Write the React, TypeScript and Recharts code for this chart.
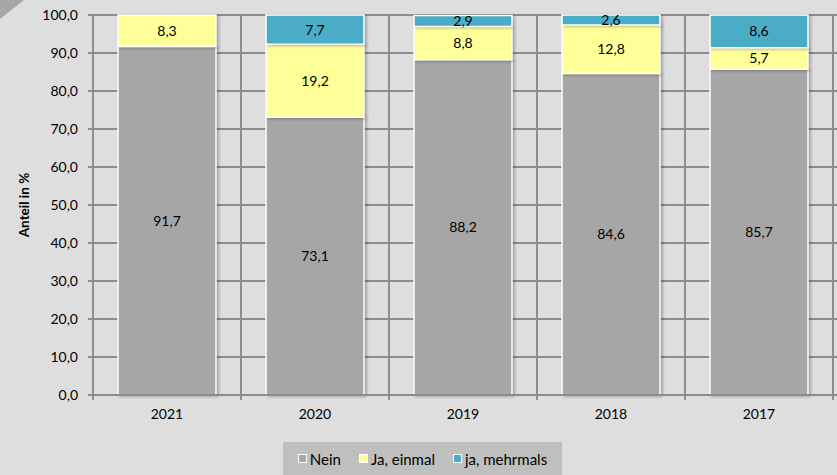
import React from 'react';
import { BarChart, Bar, XAxis, YAxis, CartesianGrid, LabelList } from 'recharts';

const categories = ['2021', '2020', '2019', '2018', '2017'];
const nein = [91.7, 73.1, 88.2, 84.6, 85.7];
const jaEinmal = [8.3, 19.2, 8.8, 12.8, 5.7];
const jaMehrmals = [0, 7.7, 2.9, 2.6, 8.6];
const yTicks = [0, 10, 20, 30, 40, 50, 60, 70, 80, 90, 100];

const seriesNames = ['Nein', 'Ja, einmal', 'ja, mehrmals'];
const seriesKeys = ['nein', 'jaEinmal', 'jaMehrmals'];
const seriesColors = ['#a6a6a6', '#ffff99', '#4bacc6'];

const data = categories.map((c, i) => ({
  year: c,
  nein: nein[i],
  jaEinmal: jaEinmal[i],
  jaMehrmals: jaMehrmals[i],
}));

const FONT = 'Lato, "Open Sans", sans-serif';
const GRID = '#8c8c8c';
const PAD_RIGHT = 4;

const fmt = (v: any) => {
  if (v === null || v === undefined || Number(v) === 0) return '';
  return Number(v).toFixed(1).replace('.', ',');
};

const XTick = (props: any) => {
  const { x, y, payload, index, visibleTicksCount } = props;
  const off = payload && payload.offset ? payload.offset : 0;
  return (
    <g>
      <line x1={x - off} x2={x - off} y1={y} y2={y + 5} stroke={GRID} strokeWidth={2} />
      {index === visibleTicksCount - 1 ? (
        <line x1={x + off} x2={x + off} y1={y} y2={y + 5} stroke={GRID} strokeWidth={2} />
      ) : null}
      <text x={x} y={y + 24} textAnchor="middle" fill="#000" fontSize={14} fontFamily={FONT}>
        {payload.value}
      </text>
    </g>
  );
};

const YLabel = (props: any) => {
  const vb = props.viewBox || {};
  const cx = 24;
  const cy = vb.y + vb.height / 2;
  return (
    <text
      x={cx}
      y={cy}
      transform={`rotate(-90, ${cx}, ${cy})`}
      textAnchor="middle"
      dominantBaseline="central"
      fontSize={13.5}
      fontWeight="bold"
      fontFamily={FONT}
      fill="#000"
    >
      Anteil in %
    </text>
  );
};

export default function App() {
  return (
    <div
      style={{
        position: 'absolute',
        left: 0,
        top: 0,
        width: 837,
        height: 475,
        background: '#dedede',
        fontFamily: FONT,
        overflow: 'hidden',
      }}
    >
      <style>{`.recharts-bar-rectangle path { filter: drop-shadow(2px 1px 1.5px rgba(0,0,0,0.28)); }`}</style>
      <svg width={30} height={25} style={{ position: 'absolute', left: 0, top: 0 }}>
        <polygon points="0,0 24,0 0,19" fill="#a6a6a6" />
      </svg>
      <BarChart
        width={837}
        height={475}
        data={data}
        margin={{ top: 15, right: 0, bottom: 50, left: 33 }}
        barCategoryGap={25}
      >
        <CartesianGrid
          stroke={GRID}
          strokeWidth={2}
          verticalCoordinatesGenerator={({ offset }: any) => {
            const n = categories.length;
            const bw = (offset.width - PAD_RIGHT) / n;
            const pts: number[] = [];
            for (let k = 0; k <= n; k++) pts.push(offset.left + k * bw);
            return pts;
          }}
        />
        <XAxis
          dataKey="year"
          padding={{ left: 0, right: PAD_RIGHT }}
          axisLine={{ stroke: GRID, strokeWidth: 2 }}
          tickLine={false}
          tickSize={0}
          tickMargin={0}
          tick={<XTick />}
          interval={0}
          height={30}
        />
        <YAxis
          domain={[0, 100]}
          ticks={yTicks}
          interval={0}
          width={60}
          axisLine={{ stroke: GRID, strokeWidth: 2 }}
          tickLine={{ stroke: GRID, strokeWidth: 2 }}
          tickSize={5}
          tickMargin={10}
          tick={{ fill: '#000', fontSize: 14, fontFamily: FONT }}
          tickFormatter={(v: number) => v.toFixed(1).replace('.', ',')}
          label={<YLabel />}
        />
        {seriesKeys.map((k, i) => (
          <Bar
            key={k}
            dataKey={k}
            name={seriesNames[i]}
            stackId="a"
            fill={seriesColors[i]}
            stroke="#ffffff"
            strokeWidth={1.5}
            isAnimationActive={false}
          >
            <LabelList
              dataKey={k}
              position="center"
              formatter={fmt}
              fill="#000"
              fontSize={14}
              fontFamily={FONT}
            />
          </Bar>
        ))}
      </BarChart>
      <div
        style={{
          position: 'absolute',
          left: 283,
          top: 442,
          width: 279,
          height: 33,
          background: '#bfbfbf',
          display: 'flex',
          alignItems: 'center',
          justifyContent: 'center',
          fontSize: 15,
          color: '#000',
          fontFamily: FONT,
        }}
      >
        {seriesNames.map((n, i) => (
          <div key={n} style={{ display: 'flex', alignItems: 'center', marginRight: i < 2 ? 18 : 0 }}>
            <span
              style={{
                display: 'inline-block',
                width: 7,
                height: 7,
                background: seriesColors[i],
                border: '1.5px solid #ffffff',
                marginRight: 3,
              }}
            />
            <span>{n}</span>
          </div>
        ))}
      </div>
    </div>
  );
}
